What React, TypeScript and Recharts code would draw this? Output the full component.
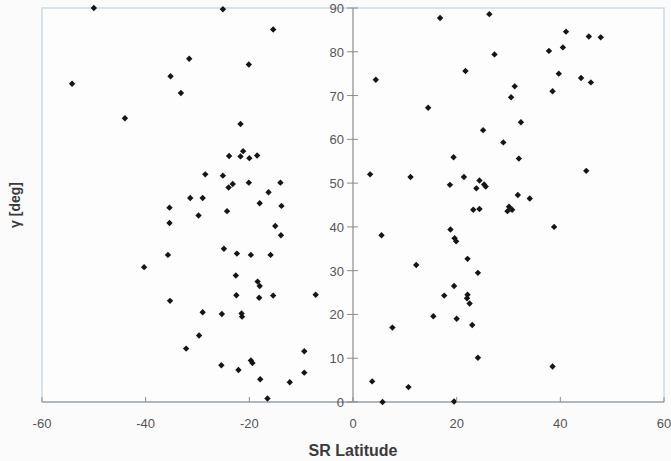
import {
  ScatterChart,
  Scatter,
  XAxis,
  YAxis,
  ReferenceLine,
  ReferenceArea,
} from 'recharts';

// southern hemisphere points
const southLat = [
  -50.0, -25.1, -15.4, -31.6, -20.1, -54.2, -35.2, -33.2, -44.0, -21.7,
  -21.2, -23.9, -21.7, -20.0, -18.5, -28.5, -25.1, -23.2, -24.0, -20.1,
  -14.0, -16.3, -31.4, -29.0, -35.4, -18.0, -13.8, -24.3, -29.8, -35.4,
  -15.0, -13.9, -24.9, -35.7, -22.4, -19.7, -15.9, -40.3, -22.6, -18.4,
  -18.0, -35.3, -22.5, -18.1, -15.4, -7.2, -29.0, -25.3, -21.5, -21.4,
  -29.7, -32.2, -9.4, -19.7, -19.4, -25.4, -22.1, -9.4, -17.9, -12.2,
  -16.5,
];
const southGamma = [
  90.0, 89.7, 85.1, 78.4, 77.1, 72.7, 74.4, 70.6, 64.8, 63.5,
  57.3, 56.2, 56.1, 55.7, 56.3, 52.0, 51.7, 49.8, 49.0, 50.1,
  50.1, 47.9, 46.6, 46.6, 44.4, 45.4, 44.8, 43.6, 42.6, 40.9,
  40.2, 38.1, 35.0, 33.6, 33.9, 33.6, 33.6, 30.8, 28.9, 27.5,
  26.5, 23.1, 24.4, 23.8, 24.3, 24.5, 20.5, 20.1, 20.2, 19.5,
  15.2, 12.2, 11.6, 9.5, 8.9, 8.4, 7.3, 6.7, 5.2, 4.5,
  0.8,
];

// northern hemisphere points
const northLat = [
  26.3, 16.8, 41.1, 45.5, 47.8, 37.8, 40.5, 27.3, 21.7, 39.7,
  4.4, 44.0, 45.9, 31.2, 38.5, 30.5, 14.5, 32.4, 25.1, 29.0,
  19.4, 32.0, 3.3, 11.1, 21.4, 45.0, 24.4, 18.7, 25.3, 25.6,
  23.8, 31.8, 34.1, 23.2, 24.4, 30.1, 29.8, 30.7, 38.8, 5.5,
  18.8, 19.6, 19.9, 12.2, 22.1, 24.1, 19.5, 17.6, 22.1, 22.0,
  22.5, 15.5, 20.0, 7.6, 23.0, 24.1, 38.5, 3.7, 10.7, 5.7,
  19.5,
];
const northGamma = [
  88.6, 87.7, 84.6, 83.5, 83.3, 80.2, 81.0, 79.4, 75.6, 75.0,
  73.6, 74.0, 73.0, 72.1, 71.0, 69.6, 67.2, 63.9, 62.1, 59.3,
  55.9, 55.6, 52.0, 51.4, 51.4, 52.8, 50.6, 49.6, 49.7, 49.2,
  48.8, 47.3, 46.5, 43.9, 44.1, 44.6, 43.6, 43.9, 40.0, 38.1,
  39.4, 37.4, 36.7, 31.3, 32.7, 29.5, 26.5, 24.3, 24.5, 23.7,
  22.5, 19.6, 19.0, 17.0, 17.6, 10.1, 8.1, 4.7, 3.4, 0.0,
  0.1,
];

const xTicks = [-60, -40, -20, 0, 20, 40, 60];
const yTicks = [0, 10, 20, 30, 40, 50, 60, 70, 80, 90];

const W = 671;
const H = 461;
const M = { top: 8, right: 7, bottom: 0, left: 41 };
const AXIS_X = 42 + (W - 42 - M.right) / 2;

const FONT = '"Liberation Sans", Arial, sans-serif';

const points = [
  ...southLat.map((lat, i) => ({ lat, gamma: southGamma[i] })),
  ...northLat.map((lat, i) => ({ lat, gamma: northGamma[i] })),
];

const Diamond = (props: any) => {
  const { cx, cy } = props;
  const r = 3.2;
  return (
    <path
      d={`M${cx},${cy - r}L${cx + r},${cy}L${cx},${cy + r}L${cx - r},${cy}Z`}
      fill="#151515"
    />
  );
};

const XTick = (props: any) => {
  const { x, y, payload } = props;
  return (
    <g>
      <line x1={x} y1={y} x2={x} y2={y - 5} stroke="#8c8c8c" />
      <text x={x} y={y + 26} textAnchor="middle" fill="#555" fontSize={13} fontFamily={FONT}>
        {payload.value}
      </text>
    </g>
  );
};

const YTick = (props: any) => {
  const { y, payload } = props;
  return (
    <g>
      <line x1={AXIS_X - 6} y1={y} x2={AXIS_X + 5} y2={y} stroke="#8c8c8c" />
      <text x={AXIS_X - 9} y={y + 5} textAnchor="end" fill="#555" fontSize={13} fontFamily={FONT}>
        {payload.value}
      </text>
    </g>
  );
};

export default function App() {
  return (
    <div style={{ position: 'absolute', left: 0, top: 0, width: W, height: H, background: '#fbfbfc' }}>
      <ScatterChart width={W} height={H} margin={M}>
        <ReferenceArea
          x1={-60}
          x2={60}
          y1={0}
          y2={90}
          fill="#fdfdfe"
          fillOpacity={1}
          stroke="#c9dce8"
          strokeWidth={1.5}
        />
        <XAxis
          type="number"
          dataKey="lat"
          domain={[-60, 60]}
          ticks={xTicks}
          interval={0}
          tickSize={0}
          tickMargin={0}
          tickLine={false}
          stroke="#8c8c8c"
          tick={<XTick />}
          height={59}
          label={{
            content: (p: any) => (
              <text
                x={p.viewBox.x + p.viewBox.width / 2}
                y={p.viewBox.y + 54}
                textAnchor="middle"
                fontSize={16}
                fontWeight="bold"
                fill="#3a3a3a"
                fontFamily={FONT}
              >
                SR Latitude
              </text>
            ),
          }}
        />
        <YAxis
          type="number"
          dataKey="gamma"
          domain={[0, 90]}
          ticks={yTicks}
          interval={0}
          width={1}
          tickSize={0}
          tickMargin={0}
          axisLine={false}
          tickLine={false}
          tick={<YTick />}
          label={{
            content: (p: any) => {
              const cy = p.viewBox.y + p.viewBox.height / 2;
              return (
                <text
                  x={20}
                  y={cy}
                  transform={`rotate(-90, 20, ${cy})`}
                  textAnchor="middle"
                  fontSize={14}
                  fontWeight="bold"
                  fill="#3a3a3a"
                  fontFamily={FONT}
                >
                  γ [deg]
                </text>
              );
            },
          }}
        />
        <ReferenceLine x={0} stroke="#8c8c8c" strokeWidth={1.2} />
        <Scatter data={points} shape={<Diamond />} isAnimationActive={false} />
      </ScatterChart>
    </div>
  );
}
